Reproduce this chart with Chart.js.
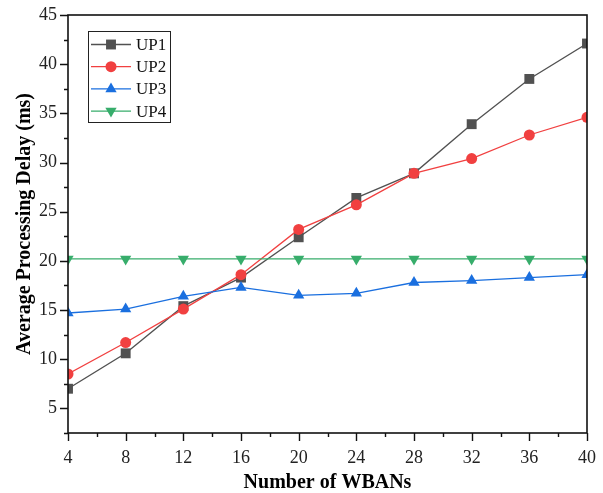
<!DOCTYPE html>
<html>
<head>
<meta charset="utf-8">
<script src="https://cdn.jsdelivr.net/npm/chart.js@4/dist/chart.umd.min.js"></script>
<style>
html,body{margin:0;padding:0;background:#fff;}
#wrap{width:603px;height:493px;}
</style>
</head>
<body>
<div id="wrap"><canvas id="c" width="603" height="493"></canvas></div>
<script>
const categories = [4, 8, 12, 16, 20, 24, 28, 32, 36, 40];
const up1 = [7.0, 10.6, 15.4, 18.3, 22.4, 26.4, 28.9, 33.9, 38.5, 42.1];
const up2 = [8.5, 11.7, 15.1, 18.6, 23.2, 25.7, 28.9, 30.4, 32.8, 34.6];
const up3 = [14.7, 15.1, 16.4, 17.3, 16.5, 16.7, 17.8, 18.0, 18.3, 18.6];
const up4 = [20.2, 20.2, 20.2, 20.2, 20.2, 20.2, 20.2, 20.2, 20.2, 20.2];
const seriesNames = ['UP1', 'UP2', 'UP3', 'UP4'];
const yTicks = [5, 10, 15, 20, 25, 30, 35, 40, 45];
const xTicks = [4, 8, 12, 16, 20, 24, 28, 32, 36, 40];

const colors = ['#515151', '#F14040', '#1A6FDF', '#37AD6B'];
const styles = [
  {pointStyle: 'rect', radius: 7, rotation: 0},
  {pointStyle: 'circle', radius: 5.5, rotation: 0},
  {pointStyle: 'triangle', radius: 6.5, rotation: 0},
  {pointStyle: 'triangle', radius: 6.5, rotation: 180}
];
const allSeries = [up1, up2, up3, up4];
const FONT = '"Liberation Serif", "Times New Roman", serif';

const datasets = allSeries.map((s, i) => ({
  label: seriesNames[i],
  data: categories.map((x, j) => ({x: x, y: s[j]})),
  borderColor: colors[i],
  backgroundColor: colors[i],
  borderWidth: 1.3,
  pointStyle: styles[i].pointStyle,
  pointRadius: styles[i].radius,
  pointRotation: styles[i].rotation,
  pointBorderWidth: 0,
  pointBackgroundColor: colors[i],
  tension: 0,
  clip: 0,
  order: 4 - i
}));

function marker(ctx, style, x, y, r, rot, color) {
  ctx.save();
  ctx.fillStyle = color;
  ctx.beginPath();
  if (style === 'rect') {
    const s = Math.SQRT1_2 * r;
    ctx.rect(x - s, y - s, 2 * s, 2 * s);
  } else if (style === 'circle') {
    ctx.arc(x, y, r, 0, Math.PI * 2);
  } else {
    const rad = rot * Math.PI / 180;
    for (let k = 0; k < 3; k++) {
      const a = rad - Math.PI / 2 + k * 2 * Math.PI / 3;
      const px = x + Math.cos(a) * r, py = y + Math.sin(a) * r;
      if (k === 0) ctx.moveTo(px, py); else ctx.lineTo(px, py);
    }
    ctx.closePath();
  }
  ctx.fill();
  ctx.restore();
}

const framePlugin = {
  id: 'frame',
  afterDraw(chart) {
    const ctx = chart.ctx;
    const a = chart.chartArea;
    const xs = chart.scales.x, ys = chart.scales.y;
    ctx.save();
    ctx.strokeStyle = '#111';
    ctx.lineWidth = 1.6;
    ctx.strokeRect(a.left, a.top, a.right - a.left, a.bottom - a.top);
    ctx.lineWidth = 1.4;
    ctx.beginPath();
    for (let v = 2.5; v <= 45.001; v += 2.5) {
      const py = Math.round(ys.getPixelForValue(v)) + 0.5;
      const major = Math.abs(v / 5 - Math.round(v / 5)) < 1e-6;
      const len = major ? 8 : 4;
      ctx.moveTo(a.left, py);
      ctx.lineTo(a.left - len, py);
    }
    for (let v = 4; v <= 40.001; v += 2) {
      const px = Math.round(xs.getPixelForValue(v)) + 0.5;
      const major = (v % 4) === 0;
      const len = major ? 8 : 4;
      ctx.moveTo(px, a.bottom);
      ctx.lineTo(px, a.bottom + len);
    }
    ctx.stroke();

    // legend
    const lx = 88, ly = 31, lw = 82, lh = 91;
    ctx.fillStyle = '#fff';
    ctx.fillRect(lx, ly, lw, lh);
    ctx.strokeStyle = '#222';
    ctx.lineWidth = 1;
    ctx.strokeRect(lx + 0.5, ly + 0.5, lw, lh);
    ctx.font = '17px ' + FONT;
    ctx.textBaseline = 'middle';
    ctx.textAlign = 'left';
    seriesNames.forEach((n, i) => {
      const yy = 44.5 + i * 22.2;
      ctx.strokeStyle = colors[i];
      ctx.lineWidth = 1.3;
      ctx.beginPath();
      ctx.moveTo(91, yy);
      ctx.lineTo(131, yy);
      ctx.stroke();
      marker(ctx, styles[i].pointStyle, 111, yy, styles[i].radius, styles[i].rotation, colors[i]);
      ctx.fillStyle = '#111';
      ctx.fillText(n, 136, yy + 1);
    });
    ctx.restore();
  }
};

new Chart(document.getElementById('c'), {
  type: 'line',
  data: {datasets: datasets},
  plugins: [framePlugin],
  options: {
    responsive: false,
    animation: false,
    devicePixelRatio: 1,
    layout: {padding: {top: 15, right: 16, left: 0, bottom: 0}},
    plugins: {legend: {display: false}, tooltip: {enabled: false}},
    scales: {
      x: {
        type: 'linear',
        min: 4, max: 40,
        afterBuildTicks(scale) { scale.ticks = xTicks.map(v => ({value: v})); },
        afterFit(scale) { scale.height = 60; scale.paddingLeft = 0; scale.paddingRight = 0; },
        grid: {display: true, drawOnChartArea: false, drawTicks: false},
        border: {display: false},
        ticks: {
          padding: 14,
          color: '#222',
          font: {family: FONT, size: 18},
          maxRotation: 0,
          autoSkip: false
        },
        title: {
          display: true,
          text: 'Number of WBANs',
          color: '#000',
          font: {family: FONT, size: 20, weight: 'bold', lineHeight: 1},
          padding: {top: -2, bottom: 0}
        }
      },
      y: {
        type: 'linear',
        min: 2.5, max: 45,
        afterBuildTicks(scale) { scale.ticks = yTicks.map(v => ({value: v})); },
        afterFit(scale) { scale.width = 68; scale.paddingTop = 0; scale.paddingBottom = 0; },
        grid: {display: true, drawOnChartArea: false, drawTicks: false},
        border: {display: false},
        ticks: {
          padding: 11,
          color: '#222',
          font: {family: FONT, size: 18}
        },
        title: {
          display: true,
          text: 'Average Processing Delay (ms)',
          color: '#000',
          font: {family: FONT, size: 20, weight: 'bold', lineHeight: 1},
          padding: {top: 15, bottom: 0}
        }
      }
    }
  }
});
</script>
</body>
</html>
